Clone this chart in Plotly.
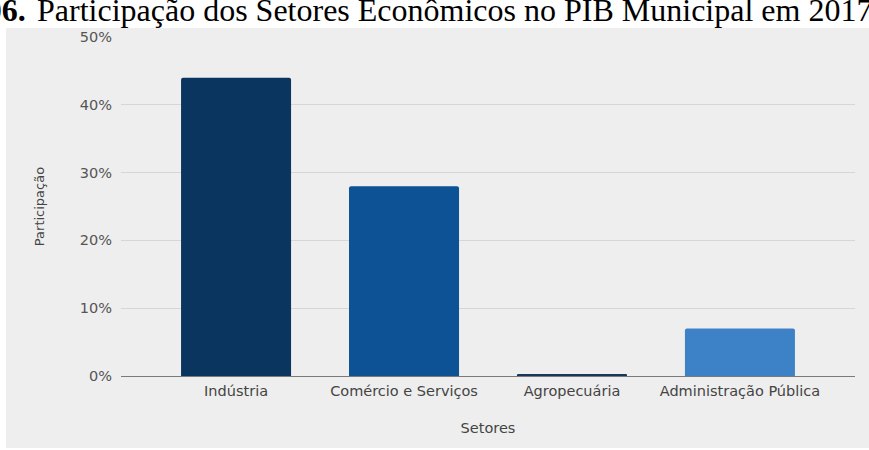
import plotly.graph_objects as go

# Participação de cada setor no PIB municipal (fração do total)
setores = ["Indústria", "Comércio e Serviços", "Agropecuária", "Administração Pública"]
participacao = [0.44, 0.28, 0.0025, 0.07]
cores = ["#09355f", "#0d5294", "#16365c", "#3d82c6"]
ticks_y = [0, 0.1, 0.2, 0.3, 0.4, 0.5]

W, H = 869, 450
ML, MR, MT, MB = 121, 14, 37, 74
pw, ph = W - ML - MR, H - MT - MB

fig = go.Figure(
    go.Bar(
        x=setores,
        y=participacao,
        marker=dict(color=cores, line=dict(width=0), cornerradius=2),
        width=0.655,
        hoverinfo="skip",
    )
)

# painel cinza claro atrás do gráfico
fig.add_shape(
    type="rect", xref="paper", yref="paper", layer="below",
    x0=(6 - ML) / pw, x1=(W - ML) / pw,
    y0=-(448 - (H - MB)) / ph, y1=((H - MB) - 28) / ph,
    fillcolor="#eeeeee", line=dict(width=0),
)

titulo_font = dict(family="Liberation Serif", size=32, color="#000000")
fig.add_annotation(
    text="<b>Gráfico 06.</b>", xref="paper", yref="paper",
    x=(28 - ML) / pw, y=1, xanchor="right", yanchor="middle", yshift=27,
    showarrow=False, font=titulo_font,
)
fig.add_annotation(
    text="Participação dos Setores Econômicos no PIB Municipal em 2017",
    xref="paper", yref="paper",
    x=(35 - ML) / pw, y=1, xanchor="left", yanchor="middle", yshift=27,
    showarrow=False, font=titulo_font,
)

fig.update_layout(
    width=W, height=H,
    margin=dict(l=ML, r=MR, t=MT, b=MB, pad=0),
    paper_bgcolor="#ffffff",
    plot_bgcolor="rgba(0,0,0,0)",
    showlegend=False,
    font=dict(family="DejaVu Sans", color="#444444"),
    bargap=0.3,
)
fig.update_xaxes(
    range=[-0.685, 3.685],
    showgrid=False, showline=False, zeroline=False, ticks="",
    tickfont=dict(size=14.5, color="#444444"),
    ticklabelstandoff=4,
    title=dict(text="Setores", font=dict(size=14.5, color="#444444"), standoff=25),
)
fig.update_yaxes(
    range=[0, 0.5],
    tickvals=ticks_y, tickformat=".0%",
    showgrid=True, gridcolor="#d6d6d6", gridwidth=1,
    zeroline=True, zerolinecolor="#7a7a7a", zerolinewidth=1,
    showline=False, ticks="",
    tickfont=dict(size=14.5, color="#555555"),
    ticklabelstandoff=8,
    title=dict(text="Participação", font=dict(size=13, color="#444444"), standoff=32),
)

fig.write_html("out.html")
